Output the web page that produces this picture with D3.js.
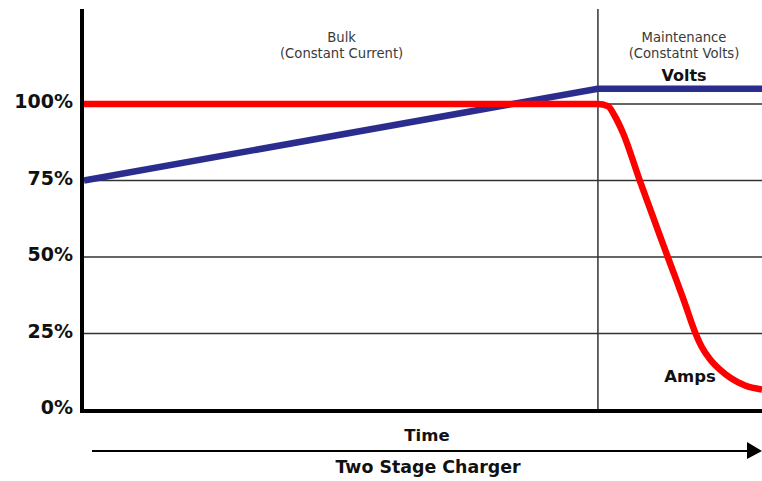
<!DOCTYPE html>
<html>
<head>
<meta charset="utf-8">
<script src="https://cdn.jsdelivr.net/npm/d3@7"></script>
<style>
  html, body { margin: 0; padding: 0; background: #fff; }
  svg { display: block; }
</style>
</head>
<body>
<div id="chart"></div>
<script>
// time is on an arbitrary 0-100 scale, values are percent
const yTicks = [0, 25, 50, 75, 100];
const stageSplit = 75.8;

const voltsTime = [0, 75.8, 100];
const voltsPct = [75, 105, 105];

const ampsTime = [0, 75.8, 77.3, 78.2, 79.5, 82, 86.1, 88.6, 90.1, 91.1, 92.3, 93.8, 95.5, 97.5, 100];
const ampsPct = [100, 100, 99.3, 96.4, 90.5, 74.8, 50, 35, 25.6, 20.7, 16.7, 13.2, 10.3, 8.0, 6.7];

const stageLabels = [
    { t: 38, lines: ["Bulk", "(Constant Current)"] },
    { t: 88.5, lines: ["Maintenance", "(Constatnt Volts)"] }
];

const width = 762;
const height = 481;

const svg = d3.select("#chart")
    .append("svg")
    .attr("width", width)
    .attr("height", height);

const x = d3.scaleLinear().domain([0, 100]).range([84, 762]);
const y = d3.scaleLinear().domain([0, 100]).range([410, 104]);

// gridlines
svg.append("g")
    .selectAll("line")
    .data(yTicks.filter(d => d > 0))
    .enter().append("line")
    .attr("x1", x(0))
    .attr("x2", x(100))
    .attr("y1", d => y(d))
    .attr("y2", d => y(d))
    .attr("stroke", "#333")
    .attr("stroke-width", 1.5);

// stage divider
svg.append("line")
    .attr("x1", x(stageSplit))
    .attr("x2", x(stageSplit))
    .attr("y1", 9)
    .attr("y2", y(0))
    .attr("stroke", "#333")
    .attr("stroke-width", 1.5);

// y labels
const yAxis = svg.append("g")
    .attr("transform", `translate(82,0)`)
    .call(d3.axisLeft(y)
        .tickValues(yTicks)
        .tickFormat(d => d + "%")
        .tickSize(0)
        .tickPadding(9));
yAxis.select(".domain").remove();
yAxis.selectAll("text")
    .attr("dy", "0.2em")
    .attr("fill", "#111")
    .style("font-family", "'DejaVu Sans', Verdana, sans-serif")
    .style("font-weight", "bold")
    .style("font-size", "19px");

// series
const volts = voltsTime.map((t, i) => ({ t: t, v: voltsPct[i] }));
const amps = ampsTime.map((t, i) => ({ t: t, v: ampsPct[i] }));

const voltsLine = d3.line()
    .x(d => x(d.t))
    .y(d => y(d.v));

const ampsLine = d3.line()
    .x(d => x(d.t))
    .y(d => y(d.v))
    .curve(d3.curveMonotoneX);

svg.append("path")
    .datum(volts)
    .attr("d", voltsLine)
    .attr("fill", "none")
    .attr("stroke", "#2b2d8e")
    .attr("stroke-width", 6.5)
    .attr("stroke-linejoin", "round");

svg.append("path")
    .datum(amps)
    .attr("d", ampsLine)
    .attr("fill", "none")
    .attr("stroke", "#ff0000")
    .attr("stroke-width", 6.5)
    .attr("stroke-linejoin", "round");

// axes lines
svg.append("line")
    .attr("x1", 82).attr("x2", 82)
    .attr("y1", 9).attr("y2", 413)
    .attr("stroke", "#000")
    .attr("stroke-width", 4);

svg.append("line")
    .attr("x1", 80).attr("x2", x(100))
    .attr("y1", 411).attr("y2", 411)
    .attr("stroke", "#000")
    .attr("stroke-width", 4);

// stage labels
stageLabels.forEach(s => {
    const txt = svg.append("text")
        .attr("x", x(s.t))
        .attr("y", 42)
        .attr("text-anchor", "middle")
        .attr("fill", "#3a3a3a")
        .style("font-family", "'DejaVu Sans', Verdana, sans-serif")
        .style("font-size", "13.2px");
    s.lines.forEach((l, i) => {
        txt.append("tspan")
            .attr("x", x(s.t))
            .attr("dy", i === 0 ? 0 : 16)
            .text(l);
    });
});

const bold = sel => sel
    .attr("fill", "#111")
    .style("font-family", "'DejaVu Sans', Verdana, sans-serif")
    .style("font-weight", "bold");

svg.append("text")
    .attr("x", 684).attr("y", 81)
    .attr("text-anchor", "middle")
    .call(bold)
    .style("font-size", "16px")
    .text("Volts");

svg.append("text")
    .attr("x", 690).attr("y", 382)
    .attr("text-anchor", "middle")
    .call(bold)
    .style("font-size", "16.5px")
    .text("Amps");

// time arrow
svg.append("line")
    .attr("x1", 92).attr("x2", 750)
    .attr("y1", 451).attr("y2", 451)
    .attr("stroke", "#000")
    .attr("stroke-width", 2);

svg.append("path")
    .attr("d", d3.line()([[747, 442], [762, 451], [747, 459]]) + "Z")
    .attr("fill", "#000");

svg.append("text")
    .attr("x", 427).attr("y", 441)
    .attr("text-anchor", "middle")
    .call(bold)
    .style("font-size", "16.5px")
    .text("Time");

svg.append("text")
    .attr("x", 428).attr("y", 473)
    .attr("text-anchor", "middle")
    .call(bold)
    .style("font-size", "17.4px")
    .text("Two Stage Charger");
</script>
</body>
</html>
